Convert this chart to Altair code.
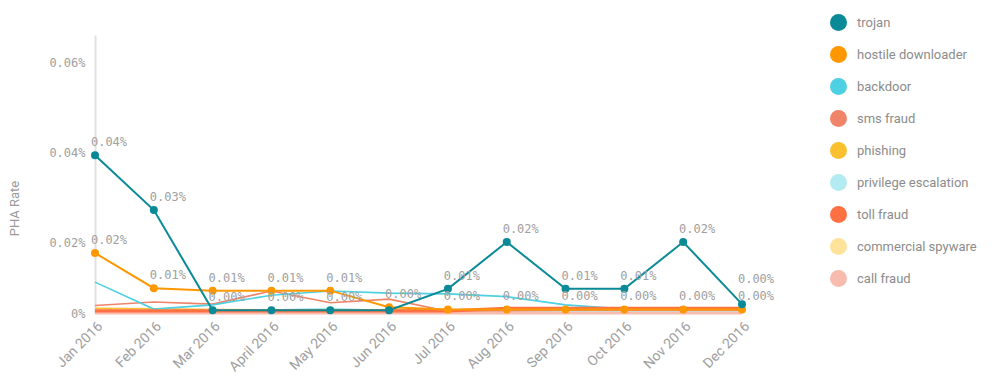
import altair as alt
import pandas as pd

months = ["Jan 2016", "Feb 2016", "Mar 2016", "April 2016", "May 2016", "Jun 2016",
          "Jul 2016", "Aug 2016", "Sep 2016", "Oct 2016", "Nov 2016", "Dec 2016"]

series_names = ["trojan", "hostile downloader", "backdoor", "sms fraud", "phishing",
                "privilege escalation", "toll fraud", "commercial spyware", "call fraud"]
series_colors = ["#0a8a96", "#ff9800", "#4dd0e1", "#ef8468", "#fbc02d",
                 "#b2ebf2", "#ff7043", "#ffe39a", "#f8bcae"]

# PHA rate, in percent
trojan = [0.0393, 0.0271, 0.0008, 0.0008, 0.0008, 0.0008, 0.0068, 0.0200, 0.0068, 0.0068, 0.0200, 0.0025]
hostile_downloader = [0.0169, 0.0070, 0.0063, 0.0063, 0.0063, 0.0016, 0.0010, 0.0010, 0.0010, 0.0010, 0.0010, 0.0010]
backdoor = [0.0087, 0.0011, 0.0023, 0.0050, 0.0062, 0.0056, 0.0054, 0.0046, 0.0023, 0.0011, 0.0011, 0.0011]
sms_fraud = [0.0021, 0.0031, 0.0025, 0.0062, 0.0029, 0.0039, 0.0005, 0.0006, 0.0008, 0.0008, 0.0008, 0.0008]
phishing = [0.0013, 0.0012, 0.0010, 0.0009, 0.0009, 0.0009, 0.0009, 0.0009, 0.0009, 0.0009, 0.0009, 0.0009]
privilege_escalation = [0.0006, 0.0006, 0.0006, 0.0008, 0.0013, 0.0006, 0.0005, 0.0005, 0.0005, 0.0005, 0.0005, 0.0005]
toll_fraud = [0.0006, 0.0006, 0.0006, 0.0006, 0.0006, 0.0006, 0.0006, 0.0013, 0.0013, 0.0013, 0.0013, 0.0013]
commercial_spyware = [0.0007, 0.0007, 0.0006, 0.0006, 0.0006, 0.0006, 0.0006, 0.0006, 0.0006, 0.0006, 0.0006, 0.0006]
call_fraud = [0.0, 0.0, 0.0, 0.0, 0.0, 0.0, 0.0, 0.0, 0.0, 0.0, 0.0, 0.0]

y_tick_values = [0, 0.02, 0.04, 0.06]

series_values = [trojan, hostile_downloader, backdoor, sms_fraud, phishing,
                 privilege_escalation, toll_fraud, commercial_spyware, call_fraud]

rows = []
# draw order: last legend entry first so trojan ends on top
for name, vals in reversed(list(zip(series_names, series_values))):
    for m, v in zip(months, vals):
        rows.append({"month": m, "series": name, "rate": v})
df = pd.DataFrame(rows)

H = 278
W = 647

x_enc = alt.X("month:O", sort=months, title=None,
              scale=alt.Scale(type="point", padding=0),
              axis=alt.Axis(labelAngle=-45, domain=False, ticks=False, labelPadding=6,
                            labelFont="Roboto", labelFontSize=14, labelColor="#9e9e9e"))
y_enc = alt.Y("rate:Q", title="PHA Rate",
              scale=alt.Scale(domain=[0, 0.02, 0.066], range=[H, 207, 0]),
              axis=alt.Axis(values=y_tick_values, grid=False, ticks=False,
                            domainColor="#e2e2e2", domainWidth=2,
                            labelExpr="datum.value == 0 ? '0%' : format(datum.value, '.2f') + '%'",
                            labelFont="DejaVu Sans Mono", labelFontSize=12, labelColor="#a0a0a0",
                            labelPadding=10,
                            titleFont="Roboto", titleFontSize=13, titleColor="#9a9a9a",
                            titleFontWeight="normal", titleX=-81, titleY=173,
                            titleAngle=-90, titleAlign="center", titleBaseline="middle"))
color_scale = alt.Scale(domain=series_names, range=series_colors)

base = alt.Chart(df)

main = ["trojan", "hostile downloader"]
thick = ["toll fraud", "call fraud"]
minor = [s for s in series_names if s not in main and s not in thick]

lines_minor = base.transform_filter(
    alt.FieldOneOfPredicate(field="series", oneOf=minor)
).mark_line(strokeWidth=1.6).encode(
    x=x_enc, y=y_enc, color=alt.Color("series:N", scale=color_scale, legend=None))

lines_thick = base.transform_filter(
    alt.FieldOneOfPredicate(field="series", oneOf=thick)
).mark_line(strokeWidth=3.2).encode(
    x=x_enc, y=y_enc, color=alt.Color("series:N", scale=color_scale, legend=None))

lines_main = base.transform_filter(
    alt.FieldOneOfPredicate(field="series", oneOf=main)
).mark_line(strokeWidth=2).encode(
    x=x_enc, y=y_enc, color=alt.Color("series:N", scale=color_scale, legend=None))

points = base.transform_filter(
    alt.FieldOneOfPredicate(field="series", oneOf=main)
).mark_point(filled=True, size=64, opacity=1).encode(
    x=x_enc, y=y_enc,
    color=alt.Color("series:N", scale=color_scale,
                    legend=alt.Legend(title=None, orient="none", legendX=735, legendY=-21,
                                      symbolType="circle", symbolSize=289,
                                      symbolStrokeWidth=0, symbolOpacity=1,
                                      rowPadding=15, labelOffset=10,
                                      labelFont="Roboto", labelFontSize=13,
                                      labelColor="#8c8c8c", padding=0)))

# value labels: when the two labelled series sit almost on top of each other,
# the lower label is dropped (very close) or the upper one is lifted (close)
label_base = base.transform_filter(
    alt.FieldOneOfPredicate(field="series", oneOf=main)
).transform_joinaggregate(
    maxr="max(rate)", minr="min(rate)", groupby=["month"]
).transform_calculate(
    lbl="format(datum.rate, '.2f') + '%'",
    place="(datum.maxr - datum.minr) < 0.001 ? (datum.rate == datum.minr ? 'hide' : 'normal')"
          " : ((datum.maxr - datum.minr) < 0.003 && datum.rate == datum.maxr ? 'lift' : 'normal')"
)

label_style = dict(font="DejaVu Sans Mono", fontSize=12, color="#a0a0a0", align="center")

labels = label_base.transform_filter(alt.datum.place == "normal").mark_text(
    dx=14, dy=-13, **label_style).encode(x=x_enc, y=y_enc, text="lbl:N")
labels_lift = label_base.transform_filter(alt.datum.place == "lift").mark_text(
    dx=14, dy=-25, **label_style).encode(x=x_enc, y=y_enc, text="lbl:N")

chart = alt.layer(lines_minor, lines_thick, lines_main, points, labels, labels_lift).resolve_legend(
    color="independent"
).properties(
    width=W, height=H,
    autosize=alt.AutoSizeParams(type="none"),
    padding={"left": 87, "top": 27, "right": 248, "bottom": 62},
).configure_view(stroke=None)

chart.save("out.html", embed_options={"renderer": "svg", "actions": False})
